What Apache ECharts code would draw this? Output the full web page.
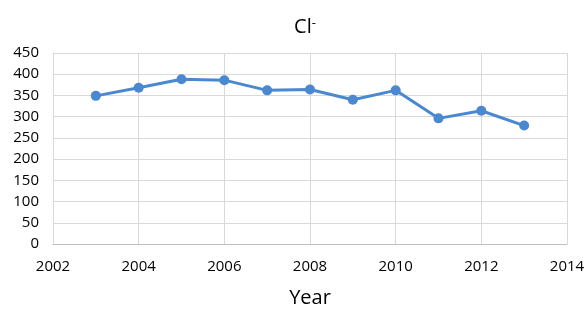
<!DOCTYPE html>
<html>
<head>
<meta charset="utf-8">
<script src="https://cdn.jsdelivr.net/npm/echarts@6/dist/echarts.min.js"></script>
<style>
  html, body { margin: 0; padding: 0; background: #fff; }
  #chart { width: 587px; height: 312px; }
</style>
</head>
<body>
<div id="chart"></div>
<script>
// 年份与 Cl- 浓度
const years = [2003, 2004, 2005, 2006, 2007, 2008, 2009, 2010, 2011, 2012, 2013]
const clValues = [349, 368, 388, 386, 362, 364, 340, 362, 296, 314, 279]

const chart = echarts.init(document.getElementById('chart'))
const font = 'Open Sans'

chart.setOption({
  animation: false,
  title: {
    text: '{a|Cl}{b|-}',
    left: 300,
    top: 12,
    textAlign: 'center',
    textStyle: {
      rich: {
        a: { fontFamily: font, fontSize: 20, fontWeight: 'normal', color: '#000' },
        b: { fontFamily: font, fontSize: 13, fontWeight: 'normal', color: '#000', verticalAlign: 'top', padding: [0, 0, 8, 0] },
      },
    },
  },
  grid: { left: 53, right: 20, top: 53, bottom: 68, outerBoundsMode: 'none', containLabel: false },
  xAxis: {
    type: 'value',
    min: 2002,
    max: 2014,
    interval: 2,
    name: 'Year',
    nameLocation: 'middle',
    nameGap: 44,
    nameTextStyle: { fontFamily: font, fontSize: 20, color: '#000' },
    axisLine: { lineStyle: { color: '#bfbfbf', width: 1 } },
    axisTick: { show: false },
    axisLabel: { fontFamily: font, fontSize: 15, color: '#000', margin: 15, formatter: v => String(v) },
    splitLine: { show: true, lineStyle: { color: '#d9d9d9', width: 1 } },
  },
  yAxis: {
    type: 'value',
    min: 0,
    max: 450,
    interval: 50,
    axisLine: { show: true, lineStyle: { color: '#d9d9d9', width: 1 } },
    axisTick: { show: false },
    axisLabel: { fontFamily: font, fontSize: 15, color: '#000', margin: 14 },
    splitLine: { lineStyle: { color: '#d9d9d9', width: 1 } },
  },
  series: [{
    type: 'line',
    data: years.map((y, i) => [y, clValues[i]]),
    symbol: 'circle',
    symbolSize: 10,
    lineStyle: { color: '#4a88cf', width: 3 },
    itemStyle: { color: '#4a88cf' },
  }],
})
</script>
</body>
</html>
